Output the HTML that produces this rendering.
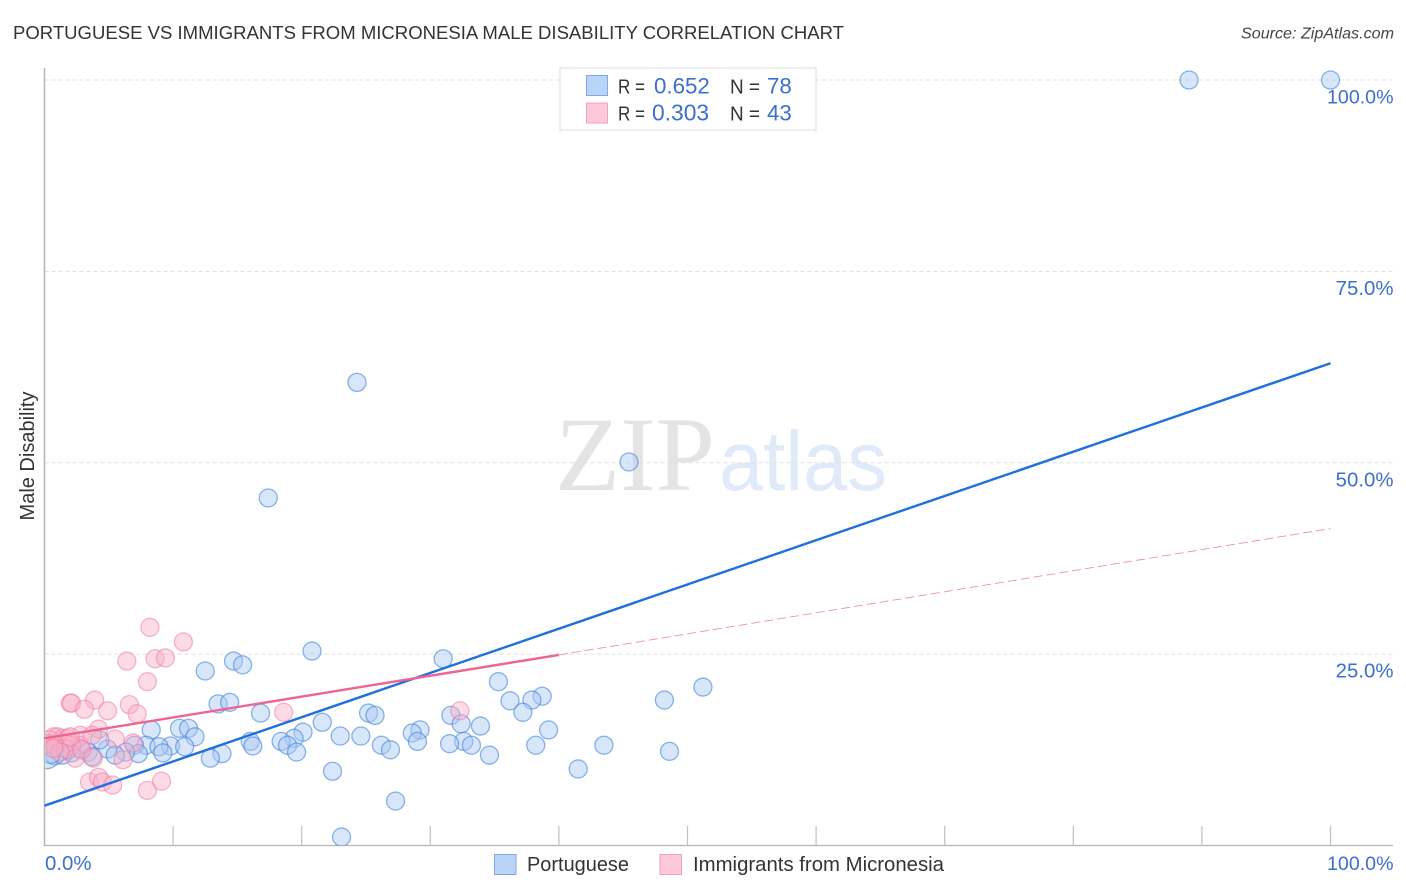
<!DOCTYPE html>
<html lang="en">
<head>
<meta charset="utf-8">
<title>Portuguese vs Immigrants from Micronesia Male Disability Correlation Chart</title>
<style>
html,body{margin:0;padding:0;background:#fff;width:1406px;height:892px;overflow:hidden}
svg{display:block}
text{font-family:"Liberation Sans",sans-serif}
</style>
</head>
<body>
<svg id="chart" width="1406" height="892" viewBox="0 0 1406 892" xmlns="http://www.w3.org/2000/svg">
  <defs>
    <clipPath id="plot-clip"><rect x="45.5" y="60" width="1355" height="785.5"/></clipPath>
  </defs>
  <text x="13" y="39" font-size="18.5" fill="#333" textLength="831" lengthAdjust="spacingAndGlyphs">PORTUGUESE VS IMMIGRANTS FROM MICRONESIA MALE DISABILITY CORRELATION CHART</text>
  <text x="1394" y="38.5" font-size="15.8" font-style="italic" fill="#444" text-anchor="end" textLength="153" lengthAdjust="spacingAndGlyphs">Source: ZipAtlas.com</text>
  <text x="555" y="490" font-size="106" fill="#e4e4e4" textLength="160" lengthAdjust="spacingAndGlyphs" style="font-family:'Liberation Serif',serif">ZIP</text>
  <text x="719" y="490" font-size="84" fill="#e0eaf9" textLength="168" lengthAdjust="spacingAndGlyphs">atlas</text>
  <g id="grid"></g>
  <g id="axes"></g>
  <g id="points-blue" clip-path="url(#plot-clip)"></g>
  <g id="points-pink" clip-path="url(#plot-clip)"></g>
  <g id="trends"></g>
  <text transform="translate(34,456) rotate(-90)" font-size="20" fill="#333" text-anchor="middle">Male Disability</text>
  <g>
    <rect x="560" y="68" width="256" height="62" fill="#fff" stroke="#dcdcdc" stroke-width="1"/>
    <rect x="586.5" y="75.5" width="21" height="20" fill="#b9d4f7" stroke="#7fa9e2"/>
    <rect x="586.5" y="103" width="21" height="20" fill="#fcc9d9" stroke="#f2a3bb"/>
    <text x="618" y="93.5" font-size="20" fill="#333" textLength="27" lengthAdjust="spacingAndGlyphs">R =</text>
    <text x="654" y="93.5" font-size="22.3" fill="#3b6fd1">0.652</text>
    <text x="730" y="93.5" font-size="20" fill="#333" textLength="30" lengthAdjust="spacingAndGlyphs">N =</text>
    <text x="767" y="93.5" font-size="22.3" fill="#3b6fd1">78</text>
    <text x="618" y="120.5" font-size="20" fill="#333" textLength="27" lengthAdjust="spacingAndGlyphs">R =</text>
    <text x="652" y="120.5" font-size="22.8" fill="#3b6fd1">0.303</text>
    <text x="730" y="120.5" font-size="20" fill="#333" textLength="30" lengthAdjust="spacingAndGlyphs">N =</text>
    <text x="767" y="120.5" font-size="22.3" fill="#3b6fd1">43</text>
  </g>
  <g>
    <rect x="494.5" y="854.5" width="21.5" height="20" fill="#b9d4f7" stroke="#7fa9e2"/>
    <text x="527" y="871" font-size="20" fill="#333" textLength="102" lengthAdjust="spacingAndGlyphs">Portuguese</text>
    <rect x="660" y="854.5" width="21.5" height="20" fill="#fcc9d9" stroke="#f2a3bb"/>
    <text x="693" y="871" font-size="20" fill="#333" textLength="251" lengthAdjust="spacingAndGlyphs">Immigrants from Micronesia</text>
  </g>
</svg>
<script>
const portugueseX = [89.0,100,24.3,45.45,17.4,20.8,31.0,14.7,15.4,12.5,35.3,51.2,38.7,37.9,36.2,48.2,13.5,14.4,16.8,37.2,25.2,25.7,31.6,21.6,32.4,33.9,8.3,10.5,11.2,39.2,29.2,28.6,20.1,11.7,23.0,24.6,19.4,18.4,16.0,29.0,32.6,31.5,33.2,38.2,43.5,16.2,18.9,26.2,7.9,9.8,8.9,10.9,7.0,26.9,19.6,48.6,34.6,13.8,9.2,12.9,7.3,4.9,6.3,5.5,4.3,3.4,2.8,2.1,1.4,0.8,0.2,1.8,3.7,41.5,22.4,27.3,23.1,0.5];
const portugueseY = [100,100,60.5,50.1,45.4,25.4,24.4,24.1,23.6,22.8,21.4,20.7,19.5,19.0,18.9,19.0,18.5,18.7,17.3,17.4,17.3,17.0,17.0,16.1,15.9,15.6,15.1,15.3,15.3,15.1,15.1,14.7,14.8,14.2,14.3,14.3,14.0,13.6,13.6,13.6,13.6,13.3,13.1,13.1,13.1,13.0,13.1,13.1,13.1,13.0,12.9,12.9,13.1,12.5,12.2,12.3,11.8,12.0,12.1,11.4,12.0,12.6,12.2,11.8,13.8,12.2,12.7,12.1,11.8,11.7,11.6,12.5,11.6,10.0,9.7,5.8,1.1,11.9];
const micronesiaX = [8.2,10.8,6.4,8.6,9.4,8.0,2.0,2.1,3.9,3.1,4.9,6.6,7.2,32.3,18.6,4.2,5.5,6.9,2.8,2.8,0.7,1.0,1.4,1.8,0.4,0.3,0.8,1.6,2.1,2.4,3.8,6.1,3.5,4.2,4.5,5.3,8.0,9.1,2.9,1.2,2.0,0.7,3.7];
const micronesiaY = [28.5,26.6,24.1,24.4,24.5,21.4,18.6,18.6,19.0,17.8,17.6,18.4,17.2,17.6,17.4,15.2,13.9,13.4,14.4,13.1,14.2,14.2,14.0,14.0,13.8,13.3,13.1,12.7,13.1,11.4,11.4,11.2,8.3,8.9,8.3,7.9,7.2,8.4,12.5,12.2,14.2,12.7,14.4];
const blueTrendX = [0,100];
const blueTrendY = [5.2,63.0];
const pinkSolidX = [0,40];
const pinkSolidY = [14.0,24.9];
const pinkDashX = [40,100];
const pinkDashY = [24.9,41.4];
const xTickValues = [10,20,30,40,50,60,70,80,90,100];
const xEdgeLabels = ["0.0%","100.0%"];
const xEdgeValues = [0,100];
const yGridValues = [100,75,50,25];
const yTickLabels = ["100.0%","75.0%","50.0%","25.0%"];

const NS = 'http://www.w3.org/2000/svg';
function sx(v){ return 44.5 + v * 12.86; }
function sy(v){ return 845.5 - v * 7.655; }
function labelSize(s){ return s.length > 5 ? 19.6 : 20.4; }
function make(tag, attrs, parent){
  const el = document.createElementNS(NS, tag);
  for (const k in attrs) el.setAttribute(k, attrs[k]);
  parent.appendChild(el);
  return el;
}

const grid = document.getElementById('grid');
const axes = document.getElementById('axes');
const blue = document.getElementById('points-blue');
const pink = document.getElementById('points-pink');
const trends = document.getElementById('trends');

yGridValues.forEach(function(v, i){
  const line = make('line', {x1:44.5, x2:1393, y1:sy(v), y2:sy(v), stroke:'#e0e0e0', 'stroke-width':1, 'stroke-dasharray':'4 3'}, grid);
  
  
  const label = make('text', {x:1393.5, y:sy(v) + 23.5, 'font-size':labelSize(yTickLabels[i]), fill:'#3b6fd1', 'text-anchor':'end'}, axes);
  label.textContent = yTickLabels[i];
  
  
});

const yAxis = make('line', {x1:44.5, x2:44.5, y1:68, y2:846, stroke:'#b5b5b5', 'stroke-width':1.5}, axes);


const xAxis = make('line', {x1:44, x2:1393, y1:845.5, y2:845.5, stroke:'#b5b5b5', 'stroke-width':1.2}, axes);



xTickValues.forEach(function(v){
  const t = make('line', {x1:sx(v), x2:sx(v), y1:826, y2:845.5, stroke:'#c0c0c0', 'stroke-width':1.2}, axes);
  
  
});
xEdgeLabels.forEach(function(s, i){
  const edge = i === 0;
  const t = make('text', {x: edge ? sx(xEdgeValues[i]) + 0.5 : 1393.5, y:870, 'font-size':labelSize(s), fill:'#3b6fd1', 'text-anchor': edge ? 'start' : 'end'}, axes);
  t.textContent = s;
  
  
});

portugueseX.forEach(function(v, i){
  const c = make('circle', {cx:sx(v), cy:sy(portugueseY[i]), r: i === 70 ? 12 : 9, fill:'#a9c9f5', 'fill-opacity':0.46, stroke:'#3f82dc', 'stroke-opacity':0.6, 'stroke-width':1.3}, blue);
  
  
});
micronesiaX.forEach(function(v, i){
  const c = make('circle', {cx:sx(v), cy:sy(micronesiaY[i]), r:9, fill:'#f9b0c7', 'fill-opacity':0.45, stroke:'#ee7c9e', 'stroke-opacity':0.55, 'stroke-width':1.3}, pink);
  
  
});

const blueLine = make('line', {x1:sx(blueTrendX[0]), y1:sy(blueTrendY[0]), x2:sx(blueTrendX[1]), y2:sy(blueTrendY[1]), stroke:'#1f6fdc', 'stroke-width':2.4}, trends);


const pinkLine = make('line', {x1:sx(pinkSolidX[0]), y1:sy(pinkSolidY[0]), x2:sx(pinkSolidX[1]), y2:sy(pinkSolidY[1]), stroke:'#ec6593', 'stroke-width':2.4}, trends);


const pinkDash = make('line', {x1:sx(pinkDashX[0]), y1:sy(pinkDashY[0]), x2:sx(pinkDashX[1]), y2:sy(pinkDashY[1]), stroke:'#ec8fae', 'stroke-width':0.9, 'stroke-dasharray':'9 4'}, trends);


</script>
</body>
</html>
